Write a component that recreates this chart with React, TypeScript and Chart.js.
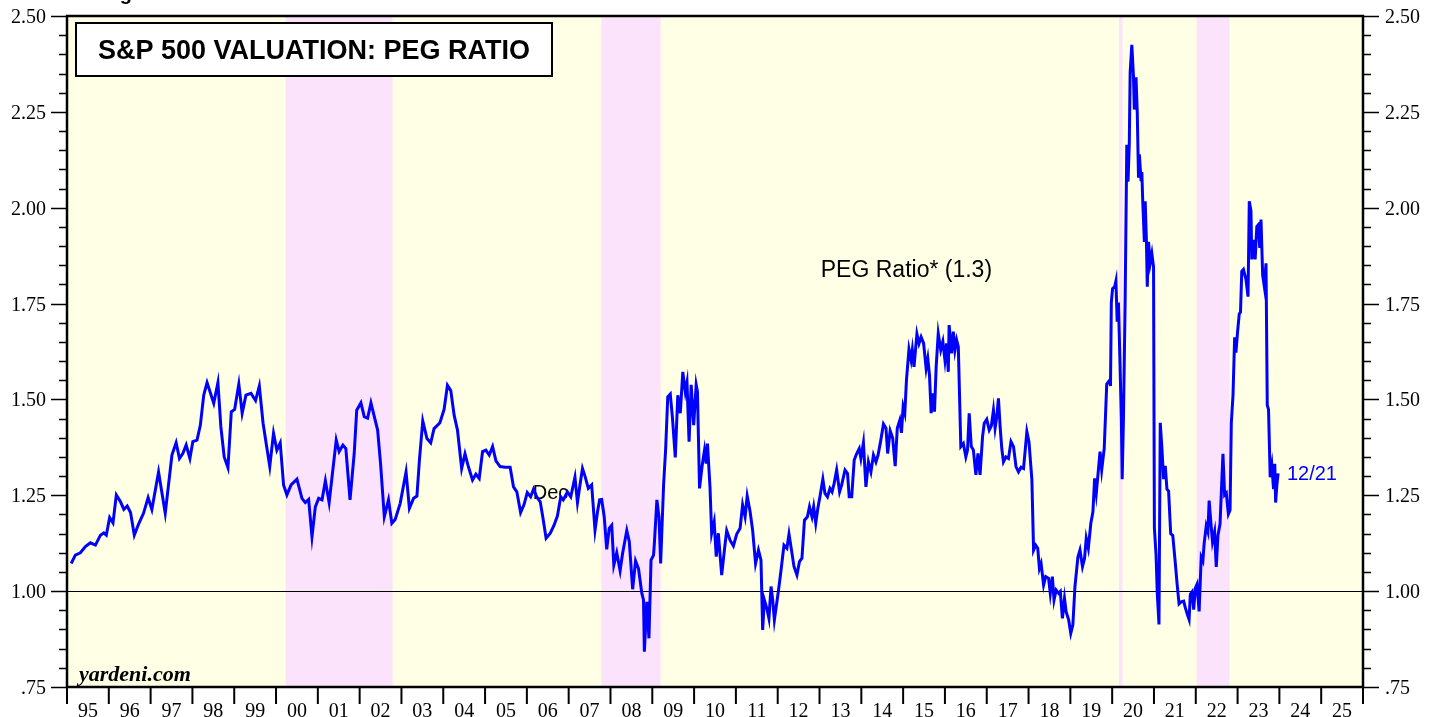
import React, { useEffect, useRef } from 'react';
import { Chart, registerables } from 'chart.js';

Chart.register(...registerables);

// ---- Data (decimal year, PEG ratio) ----
const dates: number[] = [
  1995.10, 1995.20, 1995.32, 1995.44, 1995.56, 1995.68, 1995.80, 1995.88, 1995.94,
  1996.02, 1996.10, 1996.18, 1996.28, 1996.36, 1996.44, 1996.52, 1996.61, 1996.72, 1996.83, 1996.94,
  1997.03, 1997.19, 1997.35, 1997.51, 1997.61, 1997.69, 1997.77, 1997.85, 1997.94,
  1998.01, 1998.11, 1998.19, 1998.27, 1998.35, 1998.51, 1998.61, 1998.68, 1998.76, 1998.85, 1998.93,
  1999.01, 1999.11, 1999.19, 1999.28, 1999.40, 1999.51, 1999.60, 1999.69, 1999.77, 1999.85, 1999.94,
  2000.02, 2000.10, 2000.18, 2000.26, 2000.36, 2000.50, 2000.62, 2000.70, 2000.78, 2000.86, 2000.94,
  2001.02, 2001.10, 2001.18, 2001.27, 2001.44, 2001.51, 2001.60, 2001.67, 2001.77, 2001.87, 2001.93,
  2002.03, 2002.11, 2002.19, 2002.27, 2002.43, 2002.50, 2002.59, 2002.69, 2002.77, 2002.85, 2002.97,
  2003.11, 2003.19, 2003.29, 2003.37, 2003.43, 2003.51, 2003.61, 2003.70, 2003.78, 2003.92,
  2004.02, 2004.10, 2004.18, 2004.26, 2004.34, 2004.44, 2004.52, 2004.60, 2004.70, 2004.78, 2004.86, 2004.94,
  2005.02, 2005.10, 2005.18, 2005.26, 2005.36, 2005.48, 2005.60, 2005.68, 2005.76, 2005.85, 2005.93,
  2006.01, 2006.09, 2006.16, 2006.24, 2006.32, 2006.38, 2006.46, 2006.56, 2006.65, 2006.73, 2006.81, 2006.87, 2006.97,
  2007.05, 2007.15, 2007.21, 2007.27, 2007.33, 2007.39, 2007.47, 2007.55, 2007.63, 2007.69, 2007.74, 2007.79, 2007.85, 2007.91, 2007.97,
  2008.03, 2008.08, 2008.15, 2008.23, 2008.29, 2008.39, 2008.45, 2008.53, 2008.60, 2008.67, 2008.75, 2008.79, 2008.81, 2008.87, 2008.92, 2008.97,
  2009.03, 2009.05, 2009.11, 2009.16, 2009.20, 2009.27, 2009.32, 2009.37, 2009.43, 2009.48, 2009.55, 2009.61, 2009.67, 2009.73, 2009.79, 2009.83, 2009.88, 2009.93, 2009.99,
  2010.05, 2010.08, 2010.13, 2010.19, 2010.25, 2010.29, 2010.32, 2010.38, 2010.42, 2010.48, 2010.53, 2010.58, 2010.66, 2010.73, 2010.78, 2010.86, 2010.94,
  2011.02, 2011.10, 2011.16, 2011.22, 2011.27, 2011.34, 2011.40, 2011.47, 2011.54, 2011.60, 2011.64, 2011.68, 2011.74, 2011.79, 2011.84, 2011.88, 2011.92, 2011.97,
  2012.02, 2012.08, 2012.15, 2012.22, 2012.27, 2012.33, 2012.39, 2012.46, 2012.52, 2012.58, 2012.64, 2012.71, 2012.76, 2012.82, 2012.86, 2012.91, 2012.96,
  2013.01, 2013.08, 2013.13, 2013.19, 2013.25, 2013.30, 2013.35, 2013.41, 2013.48, 2013.53, 2013.61, 2013.67, 2013.71, 2013.77, 2013.83, 2013.89, 2013.95, 2013.99,
  2014.05, 2014.11, 2014.17, 2014.23, 2014.29, 2014.35, 2014.40, 2014.46, 2014.53, 2014.59, 2014.63, 2014.69, 2014.75, 2014.81, 2014.86, 2014.92, 2014.96,
  2015.00, 2015.04, 2015.08, 2015.14, 2015.19, 2015.22, 2015.26, 2015.33, 2015.38, 2015.43, 2015.49, 2015.55, 2015.59, 2015.63, 2015.67, 2015.71, 2015.75, 2015.79, 2015.84, 2015.90, 2015.95,
  2016.00, 2016.04, 2016.08, 2016.10, 2016.16, 2016.20, 2016.24, 2016.28, 2016.32, 2016.38, 2016.44, 2016.50, 2016.54, 2016.58, 2016.63, 2016.68, 2016.74, 2016.79, 2016.84, 2016.90, 2016.94,
  2017.00, 2017.06, 2017.11, 2017.16, 2017.20, 2017.24, 2017.28, 2017.32, 2017.36, 2017.40, 2017.46, 2017.52, 2017.58, 2017.64, 2017.70, 2017.76, 2017.82, 2017.88, 2017.92, 2017.96,
  2018.01, 2018.08, 2018.12, 2018.17, 2018.22, 2018.26, 2018.30, 2018.36, 2018.41, 2018.48, 2018.52, 2018.57, 2018.61, 2018.66, 2018.72, 2018.76, 2018.81, 2018.86, 2018.90, 2018.96,
  2019.01, 2019.06, 2019.11, 2019.18, 2019.23, 2019.29, 2019.34, 2019.38, 2019.43, 2019.49, 2019.54, 2019.58, 2019.62, 2019.66, 2019.71, 2019.75, 2019.81, 2019.87, 2019.94, 2019.96, 2019.98,
  2020.01, 2020.06, 2020.09, 2020.12, 2020.15, 2020.18, 2020.22, 2020.24, 2020.27, 2020.31, 2020.35, 2020.38, 2020.41, 2020.43, 2020.47, 2020.51, 2020.53, 2020.57, 2020.60, 2020.63, 2020.65, 2020.69, 2020.71, 2020.73, 2020.77, 2020.79, 2020.82, 2020.84, 2020.87, 2020.91, 2020.95, 2020.99,
  2021.01, 2021.05, 2021.08, 2021.12, 2021.15, 2021.19, 2021.23, 2021.27, 2021.31, 2021.35, 2021.40, 2021.45, 2021.51, 2021.55, 2021.60, 2021.65, 2021.71, 2021.75, 2021.79, 2021.84, 2021.87, 2021.91, 2021.95, 2021.99,
  2022.03, 2022.08, 2022.13, 2022.17, 2022.20, 2022.25, 2022.29, 2022.32, 2022.36, 2022.40, 2022.45, 2022.49, 2022.53, 2022.58, 2022.65, 2022.69, 2022.73, 2022.78, 2022.82, 2022.85, 2022.89, 2022.93, 2022.96,
  2023.00, 2023.04, 2023.07, 2023.10, 2023.14, 2023.20, 2023.25, 2023.28, 2023.32, 2023.34, 2023.38, 2023.42, 2023.46, 2023.50, 2023.53, 2023.56, 2023.60, 2023.64, 2023.68, 2023.71, 2023.74, 2023.78, 2023.82, 2023.86, 2023.89, 2023.91, 2023.94, 2023.97,
];

const peg: number[] = [
  1.072, 1.094, 1.100, 1.116, 1.126, 1.120, 1.146, 1.152, 1.146,
  1.192, 1.178, 1.251, 1.233, 1.213, 1.222, 1.205, 1.146, 1.177, 1.203, 1.244,
  1.213, 1.311, 1.203, 1.355, 1.387, 1.346, 1.359, 1.381, 1.346,
  1.390, 1.394, 1.433, 1.511, 1.544, 1.490, 1.544, 1.429, 1.350, 1.322, 1.468,
  1.474, 1.540, 1.464, 1.511, 1.516, 1.497, 1.535, 1.438, 1.381, 1.325, 1.412,
  1.368, 1.387, 1.277, 1.251, 1.277, 1.292, 1.242, 1.231, 1.239, 1.142, 1.220,
  1.242, 1.238, 1.288, 1.231, 1.394, 1.364, 1.381, 1.372, 1.238, 1.359, 1.472,
  1.491, 1.455, 1.451, 1.491, 1.420, 1.333, 1.194, 1.238, 1.177, 1.187, 1.229,
  1.311, 1.216, 1.242, 1.248, 1.342, 1.444, 1.398, 1.387, 1.424, 1.439,
  1.474, 1.537, 1.523, 1.459, 1.420, 1.320, 1.358, 1.325, 1.290, 1.305, 1.294, 1.364,
  1.368, 1.355, 1.377, 1.340, 1.325, 1.323, 1.323, 1.272, 1.259, 1.205, 1.225,
  1.257, 1.246, 1.266, 1.245, 1.233, 1.194, 1.138, 1.151, 1.172, 1.196, 1.246, 1.238, 1.259,
  1.246, 1.297, 1.231, 1.277, 1.320, 1.300, 1.268, 1.277, 1.159, 1.207, 1.238, 1.239, 1.194, 1.109, 1.164,
  1.172, 1.068, 1.100, 1.053, 1.099, 1.158, 1.129, 1.005, 1.079, 1.059, 0.994, 0.977, 0.842, 0.972, 0.877, 1.081,
  1.094, 1.125, 1.238, 1.194, 1.072, 1.277, 1.372, 1.507, 1.514, 1.455, 1.349, 1.511, 1.464, 1.572, 1.520, 1.544, 1.390, 1.538, 1.433,
  1.538, 1.520, 1.268, 1.325, 1.368, 1.333, 1.385, 1.272, 1.151, 1.181, 1.090, 1.151, 1.042, 1.112, 1.158, 1.133, 1.118,
  1.149, 1.164, 1.225, 1.194, 1.248, 1.207, 1.159, 1.072, 1.107, 1.081, 0.899, 0.977, 0.955, 0.929, 1.012, 0.977, 0.925, 0.964,
  1.003, 1.055, 1.120, 1.112, 1.149, 1.107, 1.064, 1.042, 1.077, 1.086, 1.185, 1.194, 1.220, 1.194, 1.220, 1.177, 1.216,
  1.246, 1.292, 1.255, 1.246, 1.268, 1.259, 1.281, 1.316, 1.259, 1.277, 1.316, 1.307, 1.246, 1.246, 1.342, 1.359, 1.372, 1.346,
  1.387, 1.272, 1.337, 1.311, 1.355, 1.337, 1.355, 1.390, 1.436, 1.425, 1.359, 1.418, 1.399, 1.326, 1.425, 1.446, 1.413,
  1.481, 1.464, 1.551, 1.631, 1.603, 1.629, 1.585, 1.671, 1.646, 1.663, 1.646, 1.581, 1.607, 1.564, 1.464, 1.516, 1.468, 1.585, 1.672, 1.629, 1.651,
  1.603, 1.646, 1.572, 1.694, 1.620, 1.677, 1.629, 1.655, 1.637, 1.377, 1.385, 1.350, 1.368, 1.464, 1.377, 1.368, 1.303, 1.359, 1.303, 1.403, 1.438,
  1.448, 1.420, 1.431, 1.472, 1.425, 1.455, 1.503, 1.429, 1.372, 1.337, 1.350, 1.346, 1.390, 1.377, 1.325, 1.311, 1.323, 1.320, 1.368, 1.416,
  1.390, 1.290, 1.107, 1.120, 1.112, 1.059, 1.072, 1.016, 1.038, 1.033, 0.994, 1.038, 0.977, 1.003, 0.994, 0.999, 0.929, 0.981, 0.946, 0.925,
  0.890, 0.912, 1.012, 1.088, 1.107, 1.064, 1.086, 1.138, 1.112, 1.177, 1.207, 1.294, 1.255, 1.303, 1.364, 1.316, 1.372, 1.540, 1.550, 1.535, 1.754,
  1.789, 1.794, 1.809, 1.703, 1.753, 1.627, 1.449, 1.292, 1.449, 1.754, 2.164, 2.068, 2.169, 2.352, 2.425, 2.342, 2.256, 2.340, 2.250, 2.078, 2.139, 2.073, 2.093, 2.022, 1.911, 2.017, 1.911, 1.794, 1.911, 1.855, 1.880, 1.845,
  1.165, 1.094, 0.992, 0.913, 1.439, 1.373, 1.292, 1.327, 1.266, 1.261, 1.150, 1.145, 1.074, 1.023, 0.967, 0.972, 0.974, 0.957, 0.942, 0.926, 0.992, 0.998, 0.952, 1.008,
  1.018, 0.947, 1.089, 1.079, 1.124, 1.170, 1.155, 1.236, 1.180, 1.129, 1.155, 1.063, 1.145, 1.175, 1.358, 1.251, 1.256, 1.201, 1.211, 1.439, 1.510, 1.662, 1.622,
  1.677, 1.723, 1.728, 1.834, 1.839, 1.814, 1.768, 2.017, 1.992, 1.865, 1.916, 1.865, 1.951, 1.956, 1.895, 1.969, 1.824, 1.794, 1.855, 1.485, 1.474, 1.297, 1.327, 1.266, 1.332, 1.231, 1.277, 1.307,
];

// Bear-market shading (decimal years)
const bandStarts: number[] = [2000.23, 2007.78, 2020.16, 2022.02];
const bandEnds: number[] = [2002.79, 2009.20, 2020.25, 2022.81];

// Axis ticks & labels
const yTickValues: number[] = [0.75, 1.0, 1.25, 1.5, 1.75, 2.0, 2.25, 2.5];
const yTickLabels: string[] = ['.75', '1.00', '1.25', '1.50', '1.75', '2.00', '2.25', '2.50'];
const yearLabels: string[] = [
  '95', '96', '97', '98', '99', '00', '01', '02', '03', '04', '05', '06', '07', '08', '09', '10',
  '11', '12', '13', '14', '15', '16', '17', '18', '19', '20', '21', '22', '23', '24', '25',
];
const firstYear = 1995;
const lastDateLabel = '12/21';
const seriesLabel = 'PEG Ratio* (1.3)';
const titleText = 'S&P 500 VALUATION: PEG RATIO';

const SANS = '"Liberation Sans", Arial, sans-serif';
const SERIF = '"Liberation Serif", "Times New Roman", serif';

const decorPlugin = {
  id: 'decor',
  beforeDraw(chart: any) {
    const { ctx, chartArea: a, scales } = chart;
    const x = scales.x;
    const y = scales.y;
    ctx.save();
    ctx.fillStyle = '#ffffff';
    ctx.fillRect(0, 0, chart.width, chart.height);
    ctx.fillStyle = '#FFFFE5';
    ctx.fillRect(a.left, a.top, a.right - a.left, a.bottom - a.top);
    ctx.fillStyle = '#FCE3FC';
    for (let i = 0; i < bandStarts.length; i++) {
      const x0 = x.getPixelForValue(bandStarts[i]);
      const x1 = x.getPixelForValue(bandEnds[i]);
      ctx.fillRect(x0, a.top, x1 - x0, a.bottom - a.top);
    }
    // 1.00 reference line
    const y1 = Math.round(y.getPixelForValue(1.0)) + 0.5;
    ctx.strokeStyle = '#000';
    ctx.lineWidth = 1;
    ctx.beginPath();
    ctx.moveTo(a.left, y1);
    ctx.lineTo(a.right, y1);
    ctx.stroke();
    // "Dec" annotation under the line
    ctx.fillStyle = '#000';
    ctx.font = `20px ${SANS}`;
    ctx.textAlign = 'left';
    ctx.textBaseline = 'alphabetic';
    ctx.fillText('Dec', x.getPixelForValue(2006.14), y.getPixelForValue(1.24));
    // cut-off figure caption at very top
    ctx.font = `bold 20px ${SANS}`;
    ctx.fillText('Figure 3.', 102, 0);
    ctx.restore();
  },
  afterDatasetsDraw(chart: any) {
    const { ctx, chartArea: a, scales } = chart;
    const x = scales.x;
    const y = scales.y;
    ctx.save();
    ctx.strokeStyle = '#000';
    // frame
    ctx.lineWidth = 2.5;
    ctx.strokeRect(a.left, a.top, a.right - a.left, a.bottom - a.top);

    // y ticks (both sides)
    ctx.lineWidth = 1.5;
    for (let v = 0.75; v <= 2.5001; v += 0.05) {
      const yy = Math.round(y.getPixelForValue(v)) + 0.5;
      const major = Math.abs((v - 0.75) / 0.25 - Math.round((v - 0.75) / 0.25)) < 1e-6;
      const len = major ? 16 : 8;
      ctx.beginPath();
      ctx.moveTo(a.left - len, yy);
      ctx.lineTo(a.left, yy);
      ctx.moveTo(a.right, yy);
      ctx.lineTo(a.right + len, yy);
      ctx.stroke();
    }
    ctx.fillStyle = '#000';
    ctx.font = `20px ${SERIF}`;
    ctx.textBaseline = 'alphabetic';
    for (let i = 0; i < yTickValues.length; i++) {
      const yy = y.getPixelForValue(yTickValues[i]) + 7;
      ctx.textAlign = 'right';
      ctx.fillText(yTickLabels[i], a.left - 21, yy);
      ctx.textAlign = 'left';
      ctx.fillText(yTickLabels[i], a.right + 22, yy);
    }

    // x ticks and year labels
    ctx.lineWidth = 2;
    for (let i = 0; i <= yearLabels.length; i++) {
      const xx = x.getPixelForValue(firstYear + i);
      ctx.beginPath();
      ctx.moveTo(xx, a.bottom);
      ctx.lineTo(xx, a.bottom + 17);
      ctx.stroke();
    }
    ctx.textAlign = 'center';
    for (let i = 0; i < yearLabels.length; i++) {
      const xx = x.getPixelForValue(firstYear + i + 0.5);
      ctx.fillText(yearLabels[i], xx, a.bottom + 30);
    }

    // title box
    const bx = a.left + 9;
    const by = a.top + 7;
    const bw = 476;
    const bh = 53;
    ctx.fillStyle = '#fff';
    ctx.fillRect(bx, by, bw, bh);
    ctx.lineWidth = 2;
    ctx.strokeRect(bx, by, bw, bh);
    ctx.fillStyle = '#000';
    ctx.font = `bold 27px ${SANS}`;
    ctx.textAlign = 'center';
    ctx.textBaseline = 'alphabetic';
    ctx.fillText(titleText, bx + bw / 2, by + 36);

    // series label
    ctx.font = `23px ${SANS}`;
    ctx.textAlign = 'left';
    ctx.fillText(seriesLabel, x.getPixelForValue(2013.03), y.getPixelForValue(1.82));

    // last date label
    ctx.fillStyle = '#0000FF';
    ctx.font = `20px ${SANS}`;
    ctx.fillText(lastDateLabel, x.getPixelForValue(2024.18), y.getPixelForValue(1.29));

    // source
    ctx.fillStyle = '#000';
    ctx.font = `italic bold 22px ${SERIF}`;
    ctx.fillText('yardeni.com', a.left + 12, a.bottom - 6);
    ctx.restore();
  },
};

export default function App() {
  const canvasRef = useRef<HTMLCanvasElement | null>(null);

  useEffect(() => {
    document.body.style.margin = '0';
    const canvas = canvasRef.current;
    if (!canvas) return;
    const points = dates.map((d, i) => ({ x: d, y: peg[i] }));
    const chart = new Chart(canvas, {
      type: 'line',
      data: {
        datasets: [
          {
            label: 'PEG Ratio',
            data: points,
            borderColor: '#0000FF',
            borderWidth: 3,
            pointRadius: 0,
            tension: 0,
            fill: false,
          },
        ],
      },
      options: {
        animation: false,
        responsive: false,
        devicePixelRatio: 1,
        parsing: false,
        layout: { padding: { left: 67, right: 76, top: 16, bottom: 30 } },
        scales: {
          x: { type: 'linear', min: 1995, max: 2026, display: false },
          y: { type: 'linear', min: 0.75, max: 2.5, display: false },
        },
        plugins: {
          legend: { display: false },
          tooltip: { enabled: false },
        },
      },
      plugins: [decorPlugin],
    });
    return () => chart.destroy();
  }, []);

  return (
    <canvas
      ref={canvasRef}
      width={1439}
      height={717}
      style={{ display: 'block', width: 1439, height: 717 }}
    />
  );
}
